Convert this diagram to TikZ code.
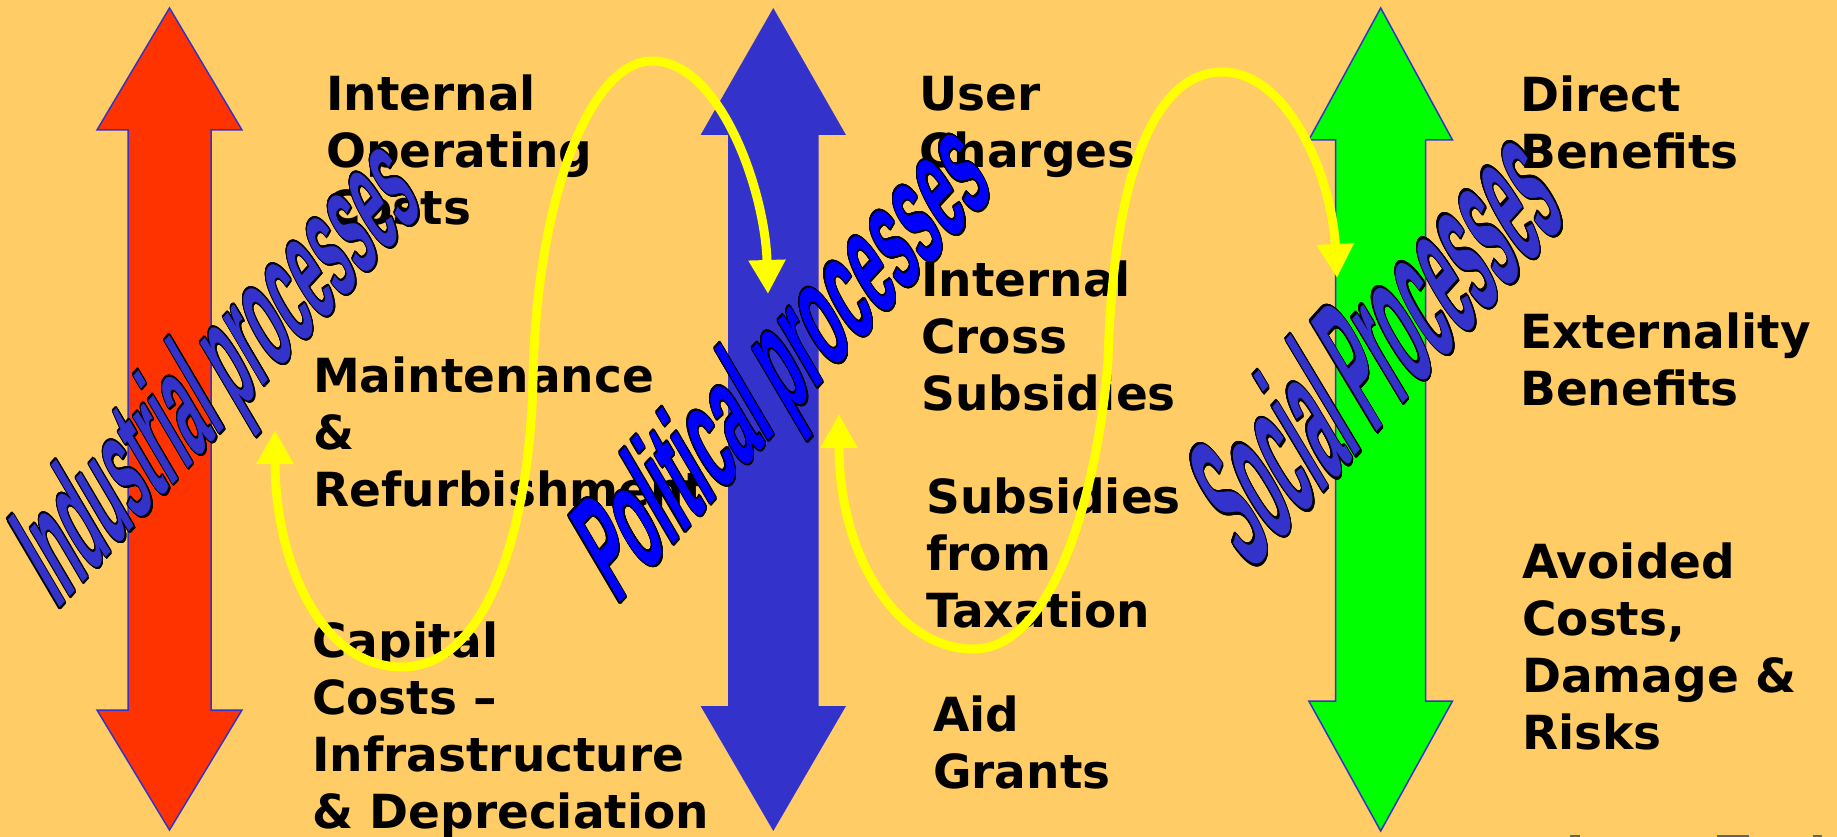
\documentclass[tikz,border=0pt]{standalone}
\usepackage{fontspec}
\usepackage{contour}
\usetikzlibrary{arrows.meta}
\newfontfamily\dvb{DejaVu Sans}
\newfontfamily\waf{Liberation Sans}
\definecolor{bgc}{RGB}{255,204,102}
\definecolor{redc}{RGB}{255,51,0}
\definecolor{bluec}{RGB}{51,51,204}
\definecolor{greenc}{RGB}{0,255,0}
\definecolor{yel}{RGB}{255,255,0}
\definecolor{pureblue}{RGB}{0,0,255}
\definecolor{fraggray}{RGB}{100,100,100}
\contourlength{0.9pt}
\contournumber{20}
% stack of left-aligned lines whose baseline is the first line's baseline
\newcommand\linestack[1]{\vtop{\halign{##\hfil\cr#1\crcr}}}
\begin{document}
\begin{tikzpicture}[x=1pt,y=-1pt,
  txt/.style={anchor=base west, inner sep=0pt, font=\dvb\bfseries\fontsize{47}{57}\selectfont, text=black},
  wa/.style={anchor=base west, inner sep=0pt, font=\waf\bfseries\fontsize{60}{60}\selectfont},
  dblarr/.style={line width=1.5pt, line join=miter},
  yarrow/.style={draw=yel, line width=9pt, arrows={Triangle[width=35pt,length=34pt]-Triangle[width=35pt,length=34pt]}},
]
\useasboundingbox (0,0) rectangle (1837,837);
\fill[bgc] (0,0) rectangle (1837,837);

% double arrows
\filldraw[dblarr, fill=redc, draw=bluec]
  (169.5,8) -- (242,130) -- (211,130) -- (211,710) -- (242,710) -- (169.5,830)
  -- (97,710) -- (128,710) -- (128,130) -- (97,130) -- cycle;
\fill[bluec]
  (773.3,8) -- (846,135) -- (818.7,135) -- (818.7,706) -- (846,706) -- (773.3,831)
  -- (700.6,706) -- (728,706) -- (728,135) -- (700.6,135) -- cycle;
\filldraw[dblarr, fill=greenc, draw=bluec]
  (1380.7,8) -- (1452.5,140) -- (1425.6,140) -- (1425.6,701) -- (1452.5,701) -- (1380.7,831)
  -- (1308.8,701) -- (1335.7,701) -- (1335.7,140) -- (1308.8,140) -- cycle;

% texts
\node[txt] (t1) at (326,110.5) {\linestack{Internal\cr Operating\cr Costs}};
\node[txt] (t2) at (313,392.5) {\linestack{Maintenance\cr \&\cr Refurbishment}};
\node[txt] (t3) at (312,657) {\linestack{Capital\cr Costs –\cr Infrastructure\cr \& Depreciation}};
\node[txt] (t4) at (919,110.5) {\linestack{User\cr Charges}};
\node[txt] (t5) at (921,296) {\linestack{Internal\cr Cross\cr Subsidies}};
\node[txt] (t6) at (926,513.7) {\linestack{Subsidies\cr from\cr Taxation}};
\node[txt] (t7) at (933,731.6) {\linestack{Aid\cr Grants}};
\node[txt] (t8) at (1520,112) {\linestack{Direct\cr Benefits}};
\node[txt] (t9) at (1520,348) {\linestack{Externality\cr Benefits}};
\node[txt] (t10) at (1522,578) {\linestack{Avoided\cr Costs,\cr Damage \&\cr Risks}};

% word-art labels
\node[wa, text=bluec, rotate=47.5, xslant=0.3057, xscale=0.933, yscale=2.36] (ind) at (57,611)
  {\contour{black}{Industrial processes}};
\node[wa, text=pureblue, rotate=47.5, xslant=0.3057, xscale=1.03, yscale=2.32] (pol) at (617,606)
  {\contour{black}{Political processes}};
\node[wa, text=bluec, rotate=48, xslant=0.3057, xscale=0.967, yscale=2.96] (soc) at (1249,574)
  {\contour{black}{Social Processes}};

% yellow curved arrows
\coordinate (y1s) at (275,430);
\coordinate (y1e) at (768,294);
\coordinate (y2s) at (839,414);
\coordinate (y2e) at (1337,278);
\draw[yarrow] (y1s) .. controls (275,560) and (320,667) .. (402,667)
  .. controls (490,667) and (530,520) .. (533,380)
  .. controls (536,200) and (590,61) .. (652,61)
  .. controls (720,61) and (765,190) .. (y1e);
\draw[yarrow] (y2s) .. controls (839,560) and (900,649) .. (973,649)
  .. controls (1060,649) and (1100,470) .. (1108,360)
  .. controls (1114,160) and (1160,72) .. (1222,72)
  .. controls (1290,72) and (1332,180) .. (y2e);

% cut-off fragments at the bottom edge
\fill[fraggray] (1570,835) rectangle (1580,837);
\fill[fraggray] (1717,835) rectangle (1749,837);
\fill[fraggray] (1813,835) rectangle (1822,837);
\end{tikzpicture}
\end{document}
